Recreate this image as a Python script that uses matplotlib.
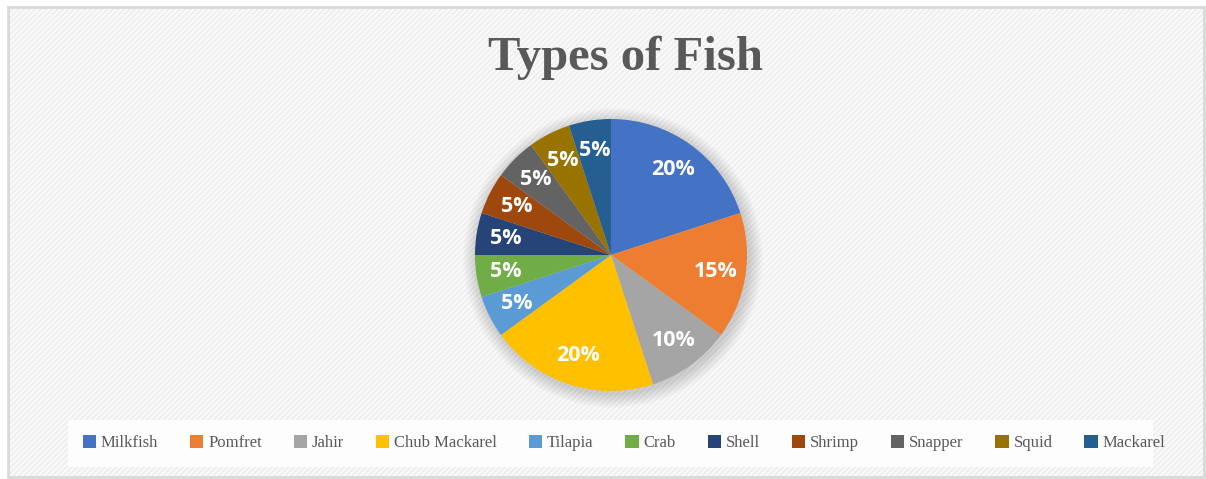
import matplotlib
matplotlib.use("Agg")
import matplotlib.pyplot as plt
from matplotlib.patches import Rectangle, Circle, Patch

# data
fish = ['Milkfish', 'Pomfret', 'Jahir', 'Chub Mackarel', 'Tilapia', 'Crab',
        'Shell', 'Shrimp', 'Snapper', 'Squid', 'Mackarel']
share = [20, 15, 10, 20, 5, 5, 5, 5, 5, 5, 5]
colors = ['#4472C4', '#ED7D31', '#A5A5A5', '#FFC000', '#5B9BD5', '#70AD47',
          '#264478', '#9E480E', '#636363', '#997300', '#255E91']

W, H = 1206, 479
plt.rcParams['hatch.linewidth'] = 1.5

fig = plt.figure(figsize=(W / 100, H / 100), dpi=100)
ax = fig.add_axes([0, 0, 1, 1])

# patterned background with border
ax.add_patch(Rectangle((0, 0), W, H, facecolor='white', edgecolor='none', zorder=0))
ax.add_patch(Rectangle((8, 2), W - 10, H - 9, facecolor='#FBFBFB', edgecolor='#EFEFEF',
                       lw=0, hatch='//////', zorder=0.5))
ax.add_patch(Rectangle((8, 2), W - 10, H - 9, facecolor='none', edgecolor='#D9D9D9',
                       lw=2, zorder=0.6))

# white legend area
ax.add_patch(Rectangle((68, H - 467), 1085, 47, facecolor='#FDFDFD', edgecolor='none', zorder=1))

# soft shadow around pie
cx, cy, r = 611, H - 255, 136
for i in range(14):
    ax.add_patch(Circle((cx + 2, cy - 3), r + 14 - i, facecolor='#000000',
                        edgecolor='none', alpha=0.012, zorder=1.5))

wedges, texts, autotexts = ax.pie(share, colors=colors, startangle=90, counterclock=False,
                                  center=(cx, cy), radius=r, autopct='%d%%',
                                  pctdistance=0.78, frame=True,
                                  wedgeprops=dict(linewidth=0, zorder=2),
                                  textprops=dict(color='white', fontsize=15.5,
                                                 fontweight='bold', family='Open Sans'))
for t in autotexts:
    t.set_zorder(3)
ax.set_xlim(0, W)
ax.set_ylim(0, H)
ax.axis('off')

ax.text(626, H - 70, 'Types of Fish', ha='center', va='baseline', fontsize=35,
        fontweight='bold', family='Liberation Serif', color='#595959', zorder=3)

handles = [Patch(facecolor=c, edgecolor='none') for c in colors]
leg = fig.legend(handles, fish, loc='center', bbox_to_anchor=(624 / W, 1 - 443 / H),
                 ncol=11, frameon=False, prop=dict(family='Liberation Serif', size=12),
                 handlelength=0.8, handleheight=0.8, handletextpad=0.3,
                 columnspacing=1.9, labelcolor='#595959')

fig.savefig('out.png', dpi=100)
